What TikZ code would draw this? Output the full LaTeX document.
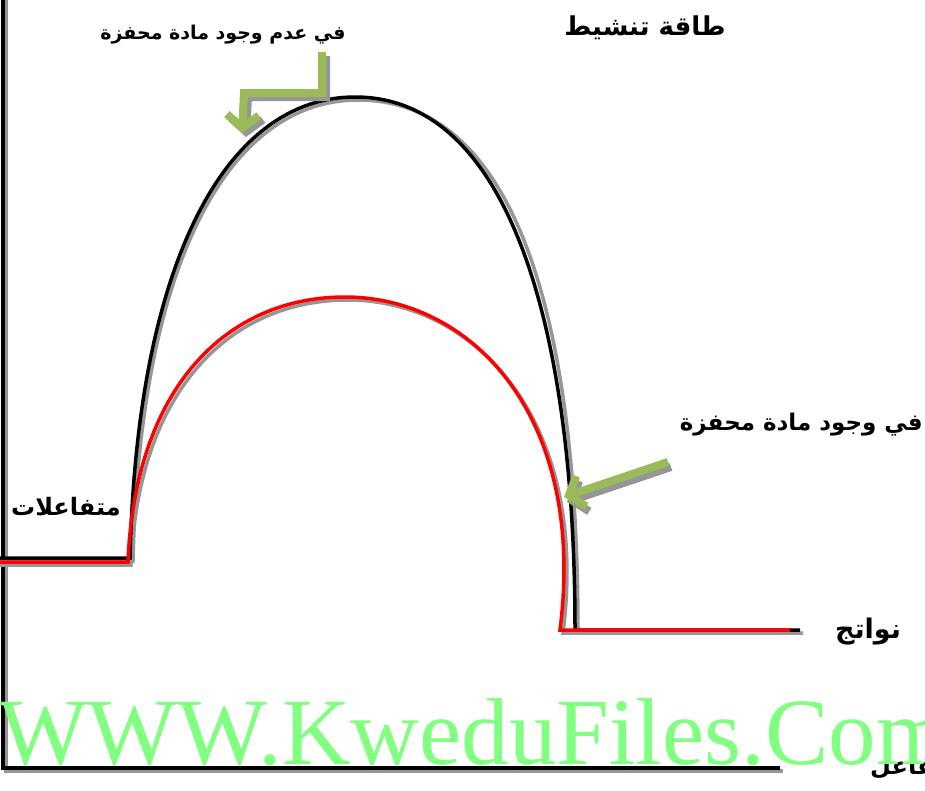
\documentclass[tikz,border=0pt]{standalone}
\usepackage{fontspec}
\setmainfont{Liberation Serif}
\newfontfamily\arabicfont[Script=Arabic]{DejaVu Sans}
\TeXXeTstate=1
\usetikzlibrary{arrows.meta}
\definecolor{arrgreen}{RGB}{155,187,89}
\definecolor{wmgreen}{RGB}{128,255,128}
\definecolor{shadowgray}{RGB}{150,150,150}
\tikzset{
  axis/.style={line width=3.5pt, black},
  axisshadow/.style={line width=3.5pt, shadowgray},
  curveblack/.style={line width=3.5pt, black},
  curvered/.style={line width=3.5pt, red},
  curveshadow/.style={line width=3.5pt, shadowgray},
  greenarrow/.style={line width=8pt, arrgreen, -{Straight Barb[length=13pt,width=32pt]}},
  greenshadow/.style={line width=8pt, shadowgray, -{Straight Barb[length=13pt,width=32pt]}},
  lbl/.style={font=\arabicfont\bfseries\fontsize{19}{21}\selectfont, inner sep=0pt},
}
\begin{document}
\begin{tikzpicture}[x=1pt,y=-1pt]
\useasboundingbox (0,0) rectangle (925,790);
\begin{scope}
\clip (0,0) rectangle (925,790);
% axes
\draw[axisshadow] (6,0) -- (6,771) -- (783,771);
\draw[axis] (3,0) -- (3,768) -- (780,768);
% shadows of curves
\draw[curveshadow] (0,561) -- (133,561) .. controls (140,260) and (230,100) .. (358,100) .. controls (520,100) and (578,330) .. (578,633) -- (803,633);
\draw[curveshadow] (0,565) -- (131,565) .. controls (138,390) and (230,300) .. (348,300) .. controls (475,300) and (590,420) .. (563,633) -- (793,633);
% black curve
\coordinate (b0) at (0,558);
\coordinate (b1) at (130,558);
\coordinate (btop) at (355,97);
\coordinate (b2) at (575,630);
\coordinate (b3) at (800,630);
\draw[curveblack] (b0) -- (b1) .. controls (137,260) and (227,97) .. (btop) .. controls (510,97) and (575,330) .. (b2) -- (b3);
% red curve
\coordinate (r0) at (0,562);
\coordinate (r1) at (128,562);
\coordinate (rtop) at (345,297);
\coordinate (r2) at (560,630);
\coordinate (r3) at (790,630);
\draw[curvered] (r0) -- (r1) .. controls (135,387) and (227,297) .. (rtop) .. controls (472,297) and (587,417) .. (r2) -- (r3);
% arrows
\coordinate (a1s) at (322,52);
\coordinate (a1m) at (322,93);
\coordinate (a1n) at (244,93);
\coordinate (a1e) at (242,133);
\draw[greenshadow] ([shift={(4,4)}]a1s) -- ([shift={(4,4)}]a1m) -- ([shift={(4,4)}]a1n) -- ([shift={(4,4)}]a1e);
\draw[greenarrow] (a1s) -- (a1m) -- (a1n) -- (a1e);
\coordinate (a2s) at (668,462);
\coordinate (a2e) at (564,497);
\draw[greenshadow] ([shift={(3,5)}]a2s) -- ([shift={(3,5)}]a2e);
\draw[greenarrow] (a2s) -- (a2e);
% labels
\node[lbl] (t1) at (223,35) {\beginR في عدم وجود مادة محفزة\endR};
\node[lbl, font=\arabicfont\bfseries\fontsize{26}{28}\selectfont] (t2) at (645,28) {\beginR طاقة تنشيط\endR};
\node[lbl, anchor=east, font=\arabicfont\bfseries\fontsize{23}{25}\selectfont] (t3) at (923,425) {\beginR في وجود مادة محفزة\endR};
\node[lbl, font=\arabicfont\bfseries\fontsize{24}{26}\selectfont] (t4) at (66,507) {\beginR متفاعلات\endR};
\node[lbl, font=\arabicfont\bfseries\fontsize{27}{29}\selectfont] (t5) at (868,632) {\beginR نواتج\endR};
\node[lbl, anchor=west, font=\arabicfont\bfseries\fontsize{24}{26}\selectfont] (t6) at (870,768) {\beginR سير التفاعل\endR};
% watermark
\node[anchor=base west, inner sep=0pt, text=wmgreen, font=\fontsize{95}{100}\selectfont] (wm) at (-2,764) {WWW.KweduFiles.Com};
\end{scope}
\end{tikzpicture}
\end{document}
